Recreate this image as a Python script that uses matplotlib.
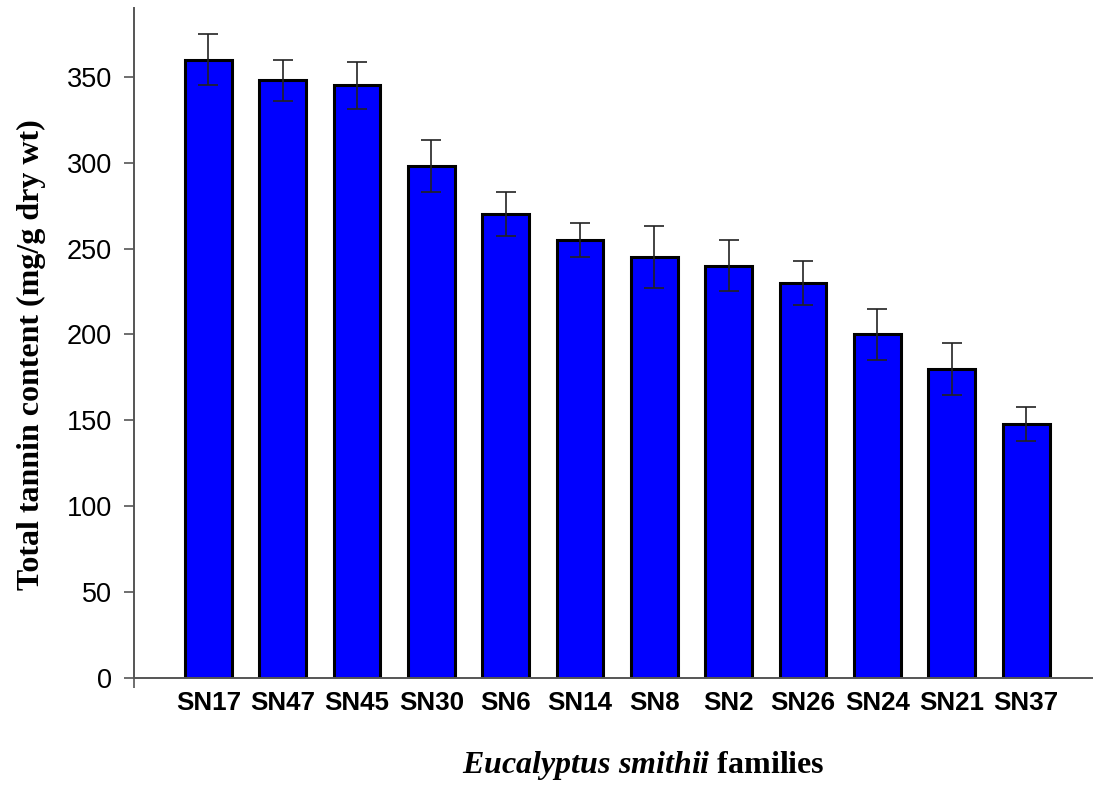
import matplotlib
matplotlib.use("Agg")
import matplotlib.pyplot as plt
import numpy as np

families = ["SN17", "SN47", "SN45", "SN30", "SN6", "SN14", "SN8", "SN2",
            "SN26", "SN24", "SN21", "SN37"]
tannin = [360, 348, 345, 298, 270, 255, 245, 240, 230, 200, 180, 148]
errors = [15, 12, 13.5, 15, 13, 10, 18, 15, 13, 15, 15, 10]
yticks = [0, 50, 100, 150, 200, 250, 300, 350]

plt.rcParams['mathtext.fontset'] = 'custom'
plt.rcParams['mathtext.rm'] = 'Liberation Serif'
plt.rcParams['mathtext.bfit'] = 'Liberation Serif:italic:bold'
plt.rcParams['mathtext.it'] = 'Liberation Serif:italic:bold'

fig = plt.figure(figsize=(10.93, 7.87), dpi=100)
ax = fig.add_axes([134/1093, 1 - 678/787, (1093 - 134)/1093, (678 - 8)/787])

x = np.arange(len(families))
ax.bar(x, tannin, width=0.63, color="#0000FF", edgecolor="black", linewidth=2.2, zorder=2)
ax.errorbar(x, tannin, yerr=errors, fmt="none", ecolor="#222222", elinewidth=1.2,
            capsize=7.5, capthick=1.2, zorder=3)

ax.set_xlim(-1, 11.9)
ax.set_ylim(0, 390)

for s in ["top", "right"]:
    ax.spines[s].set_visible(False)
for s in ["left", "bottom"]:
    ax.spines[s].set_color("#555555")
    ax.spines[s].set_linewidth(1.4)

ax.set_yticks(yticks)
ax.tick_params(axis="y", direction="out", length=7, width=1.2, color="#555555",
               pad=9, labelsize=19.5)
for lab in ax.get_yticklabels():
    lab.set_fontfamily("Liberation Sans")

ax.set_xticks(x)
ax.set_xticklabels(families, fontfamily="Liberation Sans", fontweight="bold", fontsize=18.7)
ax.tick_params(axis="x", which="major", length=0, pad=9)
ax.set_xticks(np.arange(-1, 12, 2), minor=True)
ax.tick_params(axis="x", which="minor", direction="out", length=7, width=1.2, color="#555555")

ax.set_ylabel("Total tannin content (mg/g dry wt)", fontfamily="Liberation Serif",
              fontweight="bold", fontsize=23)
ax.yaxis.set_label_coords(-0.092, 0.482)

fig.text(643/1093, 1 - 765/787, r"$\mathit{Eucalyptus\ smithii}$ families",
         fontfamily="Liberation Serif", fontweight="bold", fontsize=23,
         ha="center", va="center")

fig.savefig("out.png", dpi=100)
